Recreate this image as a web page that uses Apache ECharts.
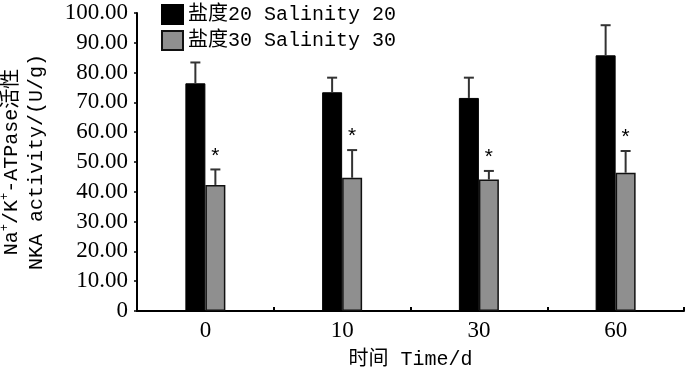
<!DOCTYPE html>
<html>
<head>
<meta charset="utf-8">
<script src="https://cdn.jsdelivr.net/npm/echarts@6/dist/echarts.min.js"></script>
<style>
  html, body { margin: 0; padding: 0; background: #fff; }
  #chart { width: 700px; height: 372px; }
</style>
</head>
<body>
<div id="chart"></div>
<script>
// 数据
var days = ['0', '10', '30', '60']
var sal20Mean = [76.4, 73.4, 71.5, 85.8]
var sal20Sd = [7.0, 4.9, 6.8, 10.1]
var sal30Mean = [42.3, 44.7, 44.1, 46.4]
var sal30Sd = [5.2, 9.3, 2.9, 7.3]
var sal30Mark = ['*', '*', '*', '*']

var monoFont = '"Liberation Mono", "Noto Sans CJK SC", monospace'
var numFont = '"Liberation Serif", serif'
var barW = 20

var myChart = echarts.init(document.getElementById('chart'))

// 误差线（只画上半部分）
function errorBars(means, sds, side, marks) {
  var data = means.map(function (m, i) {
    return [i, m, sds[i]]
  })
  return {
    type: 'custom',
    z: 5,
    silent: true,
    data: data,
    renderItem: function (params, api) {
      var idx = api.value(0)
      var m = api.value(1)
      var sd = api.value(2)
      var base = api.coord([idx, m])
      var top = api.coord([idx, m + sd])
      var x = base[0] + side * barW / 2
      var style = { stroke: '#333', lineWidth: 2 }
      var children = [
        { type: 'line', shape: { x1: x, y1: base[1], x2: x, y2: top[1] }, style: style },
        { type: 'line', shape: { x1: x - 5, y1: top[1], x2: x + 5, y2: top[1] }, style: style },
      ]
      if (marks) {
        children.push({
          type: 'text',
          style: {
            text: marks[params.dataIndex],
            x: x,
            y: top[1] - 2,
            align: 'center',
            verticalAlign: 'bottom',
            fontSize: 21,
            fontFamily: monoFont,
            fill: '#000',
          },
        })
      }
      return { type: 'group', children: children }
    },
  }
}

var option = {
  backgroundColor: '#fff',
  animation: false,
  grid: { left: 137, right: 16, top: 13, bottom: 61, outerBoundsMode: 'none', containLabel: false },
  legend: {
    orient: 'vertical',
    left: 156,
    top: -1,
    icon: 'rect',
    itemWidth: 21,
    itemHeight: 19,
    itemGap: 5,
    textStyle: { fontFamily: monoFont, fontSize: 20, color: '#000', lineHeight: 20 },
    data: ['盐度20 Salinity 20', '盐度30 Salinity 30'],
  },
  xAxis: {
    type: 'category',
    data: days,
    name: '时间 Time/d',
    nameLocation: 'middle',
    nameGap: 39,
    nameTextStyle: { fontFamily: monoFont, fontSize: 20, color: '#000' },
    axisLine: { lineStyle: { color: '#000', width: 2 } },
    axisTick: { show: true, inside: true, length: 4, lineStyle: { color: '#000', width: 2 } },
    axisLabel: { fontFamily: numFont, fontSize: 23, color: '#000', margin: 8 },
  },
  yAxis: {
    type: 'value',
    min: 0,
    max: 100,
    interval: 10,
    name: '{a|Na}{s|+}{a|/K}{s|+}{a|-ATPase活性}\n{a|NKA activity/(U/g)}',
    nameLocation: 'middle',
    nameRotate: 90,
    nameGap: 88,
    nameTextStyle: {
      color: '#000',
      rich: {
        a: { fontFamily: monoFont, fontSize: 20, color: '#000', lineHeight: 25 },
        s: { fontFamily: monoFont, fontSize: 12, color: '#000', verticalAlign: 'top', lineHeight: 25 },
      },
    },
    splitLine: { show: false },
    axisLine: { show: true, lineStyle: { color: '#000', width: 2 } },
    axisTick: { show: true, inside: false, length: 3, lineStyle: { color: '#000', width: 1.5 } },
    axisLabel: {
      fontFamily: numFont,
      fontSize: 23,
      color: '#000',
      margin: 9,
      formatter: function (v) {
        return v === 0 ? '0' : v.toFixed(2)
      },
    },
  },
  series: [
    {
      name: '盐度20 Salinity 20',
      type: 'bar',
      barWidth: barW,
      barGap: '0%',
      itemStyle: { color: '#000', borderColor: '#000', borderWidth: 1 },
      data: sal20Mean,
    },
    {
      name: '盐度30 Salinity 30',
      type: 'bar',
      barWidth: barW,
      barGap: '0%',
      itemStyle: { color: '#8f8f8f', borderColor: '#111', borderWidth: 1.5 },
      data: sal30Mean,
    },
    errorBars(sal20Mean, sal20Sd, -1, null),
    errorBars(sal30Mean, sal30Sd, 1, sal30Mark),
  ],
}

myChart.setOption(option)
</script>
</body>
</html>
